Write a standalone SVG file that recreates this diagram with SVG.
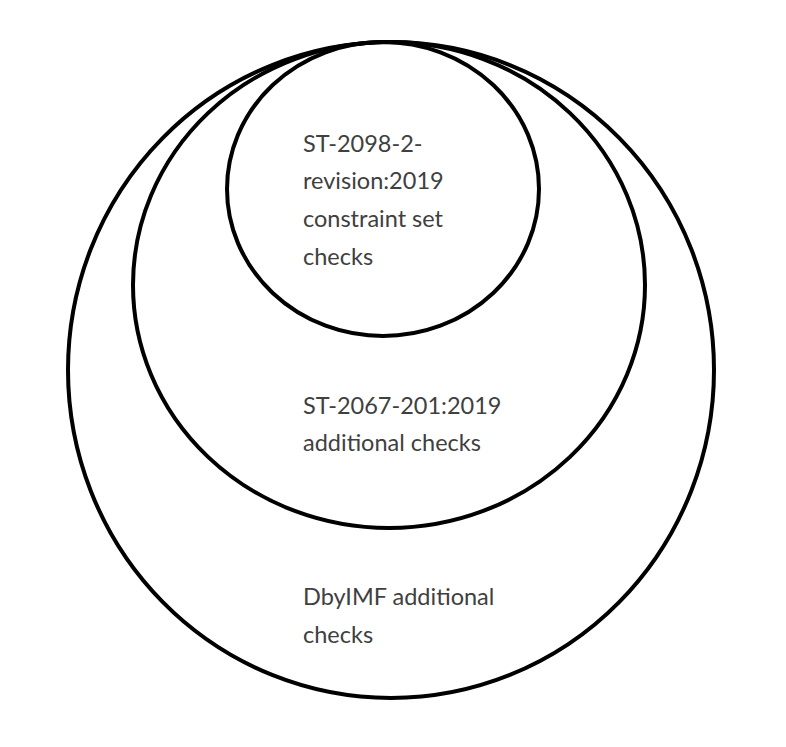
<svg xmlns="http://www.w3.org/2000/svg" width="786" height="747" viewBox="0 0 786 747">
<style>
.c{fill:none;stroke:#000;stroke-width:4}
.t{font-family:Lato,"Open Sans",sans-serif;font-size:23.5px;fill:#404040}
</style>
<rect width="786" height="747" fill="#fff"/>
<g id="outer"><ellipse class="c" cx="391" cy="370" rx="323" ry="328"/>
<text class="t" x="303"><tspan x="303" y="605">DbyIMF additional</tspan><tspan x="303" y="643">checks</tspan></text></g>
<g id="middle"><ellipse class="c" cx="389" cy="285" rx="256" ry="243"/>
<text class="t"><tspan x="303" y="414">ST-2067-201:2019</tspan><tspan x="303" y="451">additional checks</tspan></text></g>
<g id="inner"><ellipse class="c" cx="383" cy="189" rx="156" ry="147"/>
<text class="t"><tspan x="303" y="152">ST-2098-2-</tspan><tspan x="303" y="189">revision:2019</tspan><tspan x="303" y="227">constraint set</tspan><tspan x="303" y="265">checks</tspan></text></g>
<g id="connectors"/>
</svg>
